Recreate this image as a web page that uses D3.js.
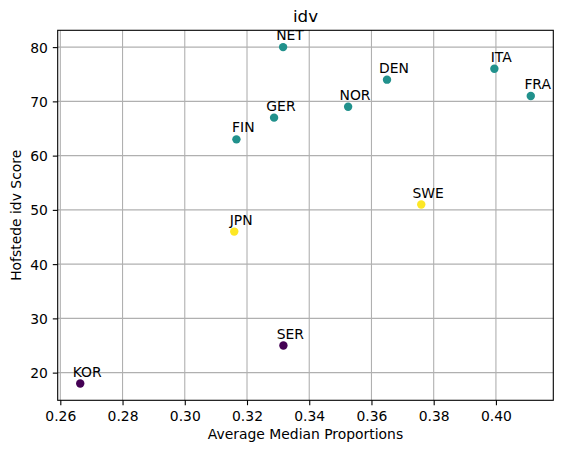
<!DOCTYPE html>
<html>
<head>
<meta charset="utf-8">
<script src="https://cdn.jsdelivr.net/npm/d3@7"></script>
<style>
  body { margin: 0; background: #fff; }
  svg { display: block; font-family: "DejaVu Sans", sans-serif; }
</style>
</head>
<body>
<svg id="chart" width="563" height="453"></svg>
<script>
const countries = ["NET", "GER", "FIN", "NOR", "DEN", "ITA", "FRA", "JPN", "SWE", "SER", "KOR"];
const proportions = [0.3316, 0.3287, 0.3166, 0.3525, 0.3650, 0.3995, 0.4112, 0.3159, 0.3760, 0.3317, 0.2664];
const idvScores = [80, 67, 63, 69, 74, 76, 71, 46, 51, 25, 18];
const clusters = [1, 1, 1, 1, 1, 1, 1, 2, 2, 0, 0];
const xTicks = [0.26, 0.28, 0.30, 0.32, 0.34, 0.36, 0.38, 0.40];
const yTicks = [20, 30, 40, 50, 60, 70, 80];

const svg = d3.select("#chart");
const L = 57.7, R = 553.3, T = 30.3, B = 400.3;

function padded(vals) {
  const [a, b] = d3.extent(vals);
  const m = (b - a) * 0.05;
  return [a - m, b + m];
}
const x = d3.scaleLinear().domain(padded(proportions)).range([L, R]);
const y = d3.scaleLinear().domain(padded(idvScores)).range([B, T]);
const color = d3.scaleSequential(d3.interpolateViridis).domain([0, 2]);

// grid
const g = svg.append("g");
g.selectAll(".gx").data(xTicks).join("line")
  .attr("x1", d => x(d)).attr("x2", d => x(d))
  .attr("y1", T).attr("y2", B)
  .attr("stroke", "#b0b0b0").attr("stroke-width", 1.1);
g.selectAll(".gy").data(yTicks).join("line")
  .attr("x1", L).attr("x2", R)
  .attr("y1", d => y(d)).attr("y2", d => y(d))
  .attr("stroke", "#b0b0b0").attr("stroke-width", 1.1);

// axes
const xAxis = d3.axisBottom(x).tickValues(xTicks).tickFormat(d3.format(".2f")).tickSize(4.9).tickPadding(4.9);
const yAxis = d3.axisLeft(y).tickValues(yTicks).tickFormat(d3.format("d")).tickSize(4.9).tickPadding(4.9);
const gx = svg.append("g").attr("transform", `translate(0,${B})`).call(xAxis);
const gy = svg.append("g").attr("transform", `translate(${L},0)`).call(yAxis);
[gx, gy].forEach(ax => {
  ax.select(".domain").remove();
  ax.selectAll(".tick line").attr("stroke", "#000").attr("stroke-width", 1.1);
  ax.selectAll(".tick text").attr("fill", "#000").attr("font-size", "13.9px")
    .attr("font-family", "DejaVu Sans, sans-serif");
});
gx.selectAll(".tick text").attr("dy", null).attr("y", 20.7);
gy.selectAll(".tick text").attr("dy", "0.36em");

// points
svg.append("g").selectAll("circle").data(countries).join("circle")
  .attr("cx", (d, i) => x(proportions[i]))
  .attr("cy", (d, i) => y(idvScores[i]))
  .attr("r", 4.2)
  .attr("fill", (d, i) => color(clusters[i]));

// labels
svg.append("g").selectAll("text").data(countries).join("text")
  .attr("x", (d, i) => x(proportions[i]) + 6.9)
  .attr("y", (d, i) => y(idvScores[i]) - 6.9)
  .attr("text-anchor", "middle")
  .attr("font-size", "13.9px")
  .attr("fill", "#000")
  .text(d => d);

// spines
svg.append("rect").attr("x", L).attr("y", T).attr("width", R - L).attr("height", B - T)
  .attr("fill", "none").attr("stroke", "#000").attr("stroke-width", 1.1);

// titles
svg.append("text").attr("x", (L + R) / 2).attr("y", 22).attr("text-anchor", "middle")
  .attr("font-size", "16.7px").attr("fill", "#000").text("idv");
svg.append("text").attr("x", (L + R) / 2).attr("y", 438.5).attr("text-anchor", "middle")
  .attr("font-size", "13.9px").attr("fill", "#000").text("Average Median Proportions");
svg.append("text").attr("transform", `translate(21,${(T + B) / 2}) rotate(-90)`)
  .attr("text-anchor", "middle").attr("font-size", "13.9px").attr("fill", "#000")
  .text("Hofstede idv Score");
</script>
</body>
</html>
